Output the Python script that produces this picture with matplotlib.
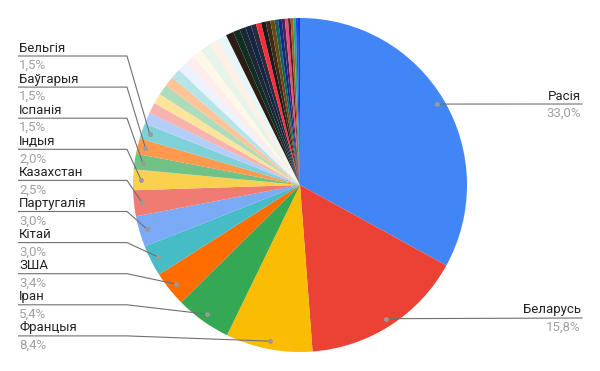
import matplotlib
matplotlib.use('Agg')
import matplotlib.pyplot as plt
import numpy as np

plt.rcParams['font.family'] = ['Roboto', 'DejaVu Sans']

# ---- data ----
labels = ['Расія', 'Беларусь', 'Францыя', 'Іран', 'ЗША', 'Кітай', 'Партугалія',
          'Казахстан', 'Індыя', 'Іспанія', 'Баўгарыя', 'Бельгія']
values = [33.0, 15.8, 8.4, 5.4, 3.4, 3.0, 3.0, 2.5, 2.0, 1.5, 1.5, 1.5]
main_colors = ['#4285F4', '#EA4335', '#FBBC04', '#34A853', '#FF6D01', '#46BDC6',
               '#7BAAF7', '#F07B72', '#FCD04F', '#71C287', '#FF994D', '#7ED1D7']

pale_values = [1.1, 1.05, 1.0, 1.0, 1.0, 0.95]
pale_colors = ['#B3CEFB', '#F7B4AE', '#FDE49B', '#AEDCBA', '#FFC599', '#B5E5E8']

verypale_values = [0.95, 0.95, 0.95, 0.95, 0.9, 0.9]
verypale_colors = ['#ECF3FE', '#FDEDEC', '#FFF8E6', '#E6F4EA', '#FFF0E6', '#E7F7F8']

dark_values = [0.75, 0.65, 0.6, 0.55, 0.5, 0.5, 0.45, 0.45, 0.4, 0.35, 0.35,
               0.3, 0.3, 0.25, 0.25, 0.25, 0.2, 0.2]
dark_colors = ['#2b1d14', '#0f2e24', '#1c2733', '#162447', '#2a2a3a', '#ff2d3d',
               '#1a1a1a', '#3e2a1a', '#6b4a14', '#10645a', '#0d2a8a', '#4a2548',
               '#e84c88', '#5e1c1c', '#a0650f', '#2aa198', '#1a4fd8', '#0a3ee0']

all_values = values + pale_values + verypale_values + dark_values
all_colors = main_colors + pale_colors + verypale_colors + dark_colors

# ---- figure ----
W, H = 600, 371
fig = plt.figure(figsize=(W / 100, H / 100), dpi=100)
ax = fig.add_axes([0, 0, 1, 1])

cx, cy, R = 300, H - 185, 167
wedges, _ = ax.pie(all_values, colors=all_colors, startangle=90, counterclock=False,
                   center=(cx, cy), radius=R, wedgeprops=dict(linewidth=0))
ax.set_xlim(0, W)
ax.set_ylim(0, H)
ax.set_aspect('equal')
ax.axis('off')


def py(y):
    return H - y


def dot_of(i):
    w = wedges[i]
    a = np.deg2rad((w.theta1 + w.theta2) / 2)
    return cx + 0.952 * R * np.cos(a), cy + 0.952 * R * np.sin(a)


def pct(v):
    return f"{v:.1f}%".replace('.', ',')


line_col = '#707070'
dot_col = '#9a9a9a'
fs = 9.5

# left labels (from top: Бельгія ... Францыя)
left_idx = [11, 10, 9, 8, 7, 6, 5, 4, 3, 2]
for k, i in enumerate(left_idx):
    yl = 56 + k * 31.1
    dx, dy = dot_of(i)
    ax.plot([18, 127, dx], [py(yl), py(yl), dy], color=line_col, lw=0.8,
            solid_capstyle='butt')
    ax.plot([dx], [dy], 'o', ms=3.5, color=dot_col, mec='none')
    ax.text(19, py(yl - 8), labels[i], ha='left', va='center', fontsize=fs, color='#222222')
    ax.text(19, py(yl + 9.5), pct(values[i]), ha='left', va='center', fontsize=fs, color='#a0a0a0')

# right labels
for i, yl in [(0, 104), (1, 318)]:
    dx, dy = dot_of(i)
    ax.plot([dx, 582], [dy, py(yl)], color=line_col, lw=0.8)
    ax.plot([dx], [dy], 'o', ms=3.5, color=dot_col, mec='none')
    ax.text(581, py(yl - 8), labels[i], ha='right', va='center', fontsize=fs, color='#222222')
    ax.text(581, py(yl + 9.5), pct(values[i]), ha='right', va='center', fontsize=fs, color='#a0a0a0')

fig.savefig('out.png', dpi=100)
